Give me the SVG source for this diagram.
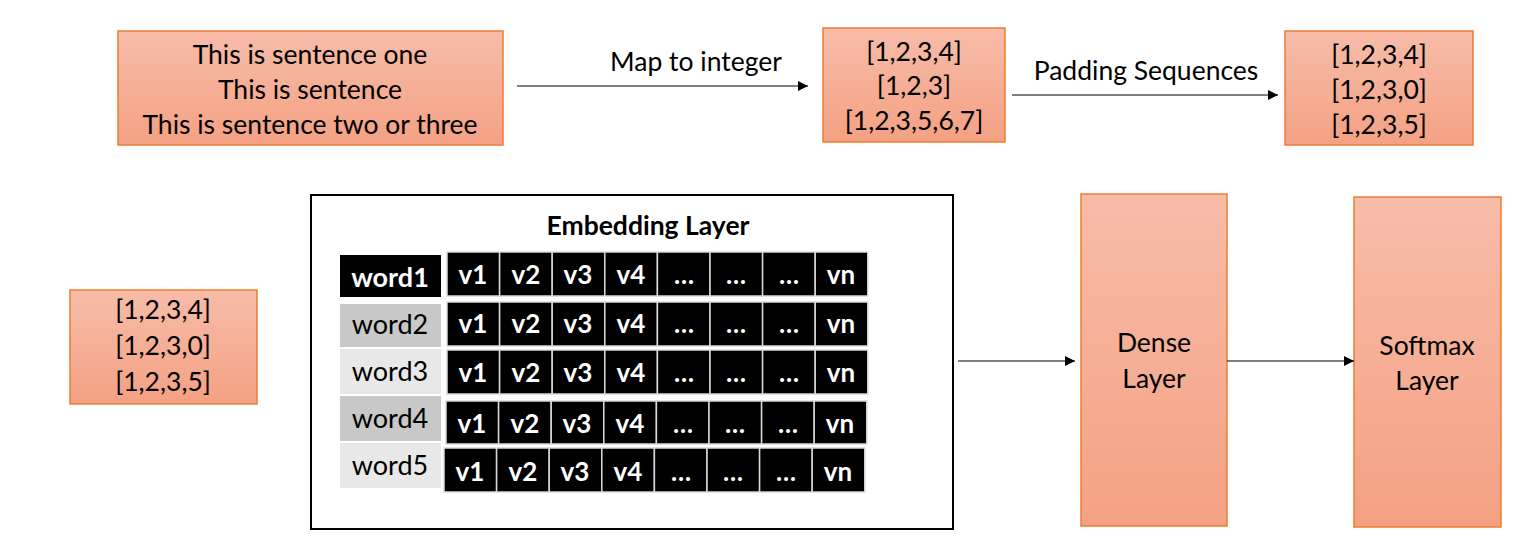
<svg xmlns="http://www.w3.org/2000/svg" width="1515" height="553" viewBox="0 0 1515 553">
<defs>
<linearGradient id="peach" x1="0" y1="0" x2="0" y2="1">
<stop offset="0" stop-color="#f7bca9"/>
<stop offset="1" stop-color="#f4a183"/>
</linearGradient>
<marker id="arr" viewBox="0 0 10 10" refX="10" refY="5" markerWidth="10" markerHeight="10" markerUnits="userSpaceOnUse" orient="auto">
<path d="M0,0 L10,5 L0,10 z" fill="#000"/>
</marker>
<style>
.box{fill:url(#peach);stroke:#ed7d31;stroke-width:1.5}
.t{font-family:Lato,"Open Sans","Liberation Sans",sans-serif;font-size:26.5px;fill:#000;text-anchor:middle}
.lbl{font-family:Lato,"Open Sans","Liberation Sans",sans-serif;font-size:26.5px;fill:#000;text-anchor:middle}
.cell{fill:#000;stroke:#d9d9d9;stroke-width:1.5}
.v{font-family:Lato,"Liberation Sans",sans-serif;font-size:26px;font-weight:bold;fill:#fff;text-anchor:middle}
.w{font-family:Lato,"Liberation Sans",sans-serif;font-size:27px;fill:#000;text-anchor:middle}
.conn{stroke:#000;stroke-width:1;fill:none;marker-end:url(#arr)}
</style>
</defs>
<rect width="1515" height="553" fill="#fff"/>

<g id="sentences">
<rect class="box" x="118" y="31" width="385" height="114"/>
<text class="t" x="310" y="64">This is sentence one</text>
<text class="t" x="310" y="99">This is sentence</text>
<text class="t" x="310" y="134">This is sentence two or three</text>
</g>

<g id="integers">
<rect class="box" x="823" y="28" width="182" height="114"/>
<text class="t" x="914" y="61">[1,2,3,4]</text>
<text class="t" x="914" y="95">[1,2,3]</text>
<text class="t" x="914" y="130">[1,2,3,5,6,7]</text>
</g>

<g id="padded">
<rect class="box" x="1285" y="31" width="188" height="114"/>
<text class="t" x="1379" y="64">[1,2,3,4]</text>
<text class="t" x="1379" y="99">[1,2,3,0]</text>
<text class="t" x="1379" y="134">[1,2,3,5]</text>
</g>

<g id="input">
<rect class="box" x="70" y="290" width="187" height="114"/>
<text class="t" x="163" y="319">[1,2,3,4]</text>
<text class="t" x="163" y="355">[1,2,3,0]</text>
<text class="t" x="163" y="391">[1,2,3,5]</text>
</g>

<g id="embedding">
<rect x="311" y="195" width="642" height="334" fill="#fff" stroke="#000" stroke-width="2"/>
<text x="648" y="235" font-family="Lato,'Liberation Sans',sans-serif" font-size="26.5" font-weight="bold" text-anchor="middle">Embedding Layer</text>
<rect x="340" y="255" width="101" height="42" fill="#000"/>
<text class="w" x="390" y="287" style="fill:#fff;font-weight:bold">word1</text>
<rect x="340" y="304" width="101" height="43" fill="#c8c8c8"/>
<text class="w" x="390" y="334">word2</text>
<rect x="340" y="349" width="101" height="45" fill="#e8e8e8"/>
<text class="w" x="390" y="381">word3</text>
<rect x="340" y="396" width="101" height="45" fill="#c8c8c8"/>
<text class="w" x="390" y="428">word4</text>
<rect x="340" y="443" width="101" height="45" fill="#e8e8e8"/>
<text class="w" x="390" y="475">word5</text>

<g id="row1">
<rect class="cell" x="447" y="252" width="52.6" height="44"/>
<rect class="cell" x="499.6" y="252" width="52.6" height="44"/>
<rect class="cell" x="552.2" y="252" width="52.6" height="44"/>
<rect class="cell" x="604.8" y="252" width="52.6" height="44"/>
<rect class="cell" x="657.4" y="252" width="52.6" height="44"/>
<rect class="cell" x="710" y="252" width="52.6" height="44"/>
<rect class="cell" x="762.6" y="252" width="52.6" height="44"/>
<rect class="cell" x="815.2" y="252" width="52.6" height="44"/>
<text class="v" x="473" y="284">v1</text><text class="v" x="526" y="284">v2</text><text class="v" x="578" y="284">v3</text><text class="v" x="631" y="284">v4</text><text class="v" x="684" y="284">…</text><text class="v" x="736" y="284">…</text><text class="v" x="789" y="284">…</text><text class="v" x="841" y="284">vn</text>
</g>
<g id="row2">
<rect class="cell" x="447" y="302" width="52.6" height="44"/>
<rect class="cell" x="499.6" y="302" width="52.6" height="44"/>
<rect class="cell" x="552.2" y="302" width="52.6" height="44"/>
<rect class="cell" x="604.8" y="302" width="52.6" height="44"/>
<rect class="cell" x="657.4" y="302" width="52.6" height="44"/>
<rect class="cell" x="710" y="302" width="52.6" height="44"/>
<rect class="cell" x="762.6" y="302" width="52.6" height="44"/>
<rect class="cell" x="815.2" y="302" width="52.6" height="44"/>
<text class="v" x="473" y="333">v1</text><text class="v" x="526" y="333">v2</text><text class="v" x="578" y="333">v3</text><text class="v" x="631" y="333">v4</text><text class="v" x="684" y="333">…</text><text class="v" x="736" y="333">…</text><text class="v" x="789" y="333">…</text><text class="v" x="841" y="333">vn</text>
</g>
<g id="row3">
<rect class="cell" x="447" y="350" width="52.6" height="44"/>
<rect class="cell" x="499.6" y="350" width="52.6" height="44"/>
<rect class="cell" x="552.2" y="350" width="52.6" height="44"/>
<rect class="cell" x="604.8" y="350" width="52.6" height="44"/>
<rect class="cell" x="657.4" y="350" width="52.6" height="44"/>
<rect class="cell" x="710" y="350" width="52.6" height="44"/>
<rect class="cell" x="762.6" y="350" width="52.6" height="44"/>
<rect class="cell" x="815.2" y="350" width="52.6" height="44"/>
<text class="v" x="473" y="382">v1</text><text class="v" x="526" y="382">v2</text><text class="v" x="578" y="382">v3</text><text class="v" x="631" y="382">v4</text><text class="v" x="684" y="382">…</text><text class="v" x="736" y="382">…</text><text class="v" x="789" y="382">…</text><text class="v" x="841" y="382">vn</text>
</g>
<g id="row4">
<rect class="cell" x="446" y="401" width="52.6" height="43"/>
<rect class="cell" x="498.6" y="401" width="52.6" height="43"/>
<rect class="cell" x="551.2" y="401" width="52.6" height="43"/>
<rect class="cell" x="603.8" y="401" width="52.6" height="43"/>
<rect class="cell" x="656.4" y="401" width="52.6" height="43"/>
<rect class="cell" x="709" y="401" width="52.6" height="43"/>
<rect class="cell" x="761.6" y="401" width="52.6" height="43"/>
<rect class="cell" x="814.2" y="401" width="52.6" height="43"/>
<text class="v" x="472" y="433">v1</text><text class="v" x="525" y="433">v2</text><text class="v" x="577" y="433">v3</text><text class="v" x="630" y="433">v4</text><text class="v" x="683" y="433">…</text><text class="v" x="735" y="433">…</text><text class="v" x="788" y="433">…</text><text class="v" x="840" y="433">vn</text>
</g>
<g id="row5">
<rect class="cell" x="444" y="448" width="52.6" height="44"/>
<rect class="cell" x="496.6" y="448" width="52.6" height="44"/>
<rect class="cell" x="549.2" y="448" width="52.6" height="44"/>
<rect class="cell" x="601.8" y="448" width="52.6" height="44"/>
<rect class="cell" x="654.4" y="448" width="52.6" height="44"/>
<rect class="cell" x="707" y="448" width="52.6" height="44"/>
<rect class="cell" x="759.6" y="448" width="52.6" height="44"/>
<rect class="cell" x="812.2" y="448" width="52.6" height="44"/>
<text class="v" x="470" y="481">v1</text><text class="v" x="523" y="481">v2</text><text class="v" x="575" y="481">v3</text><text class="v" x="628" y="481">v4</text><text class="v" x="681" y="481">…</text><text class="v" x="733" y="481">…</text><text class="v" x="786" y="481">…</text><text class="v" x="838" y="481">vn</text>
</g>
</g>

<g id="dense">
<rect class="box" x="1081" y="194" width="146" height="332"/>
<text class="t" x="1154" y="352">Dense</text>
<text class="t" x="1154" y="388">Layer</text>
</g>

<g id="softmax">
<rect class="box" x="1354" y="197" width="147" height="330"/>
<text class="t" x="1427" y="355">Softmax</text>
<text class="t" x="1427" y="390">Layer</text>
</g>

<g id="connectors">
<line class="conn" x1="517" y1="86" x2="808" y2="86"/>
<text class="lbl" x="696" y="71">Map to integer</text>
<line class="conn" x1="1012" y1="95" x2="1278" y2="95"/>
<text class="lbl" x="1146" y="80">Padding Sequences</text>
<line class="conn" x1="958" y1="361" x2="1075" y2="361"/>
<line class="conn" x1="1227" y1="361" x2="1354" y2="361"/>
</g>
</svg>
